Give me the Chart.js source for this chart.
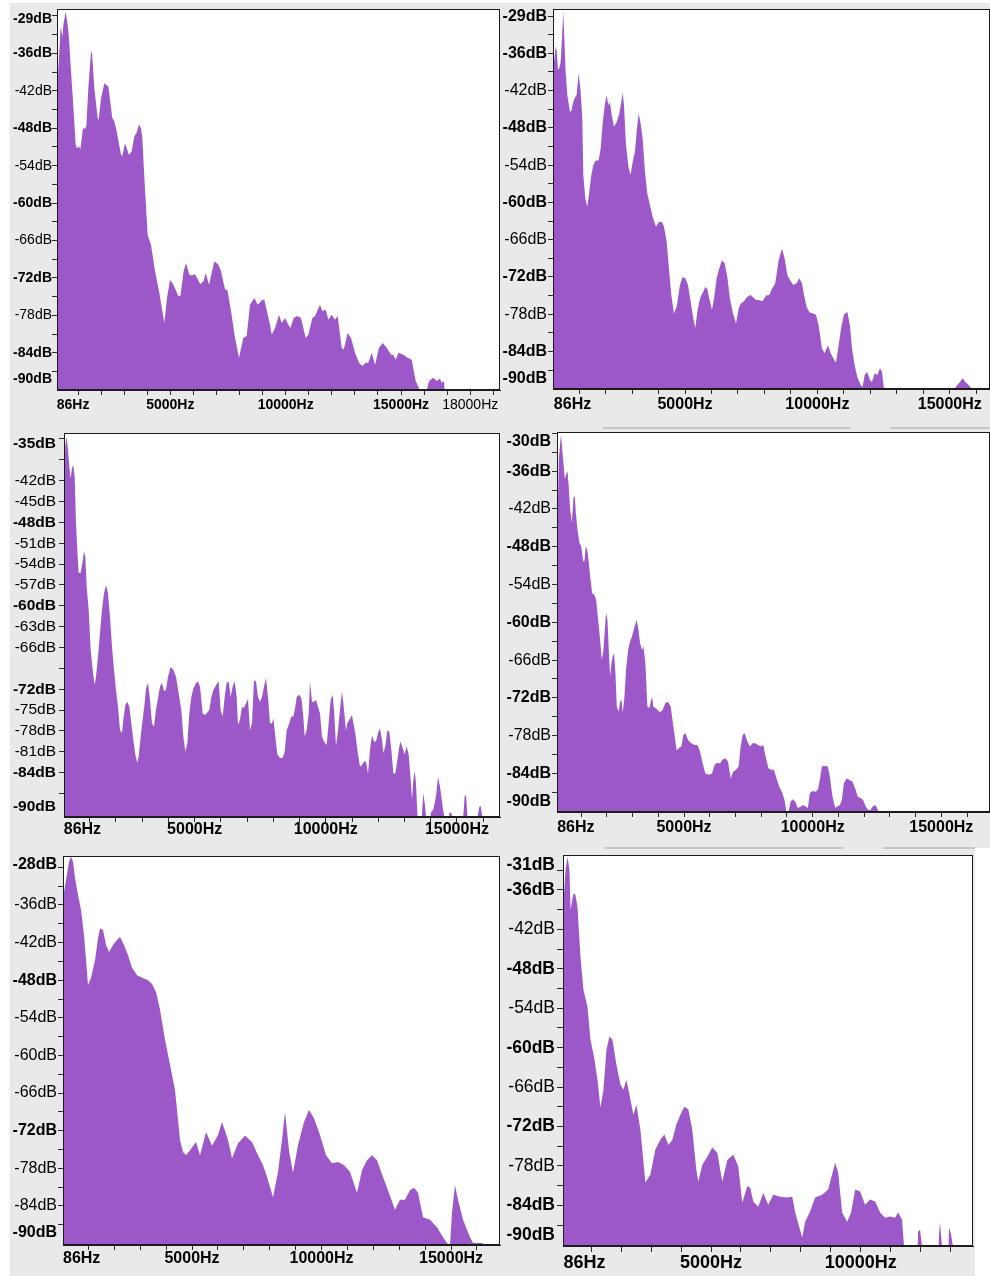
<!DOCTYPE html>
<html>
<head>
<meta charset="utf-8">
<script src="https://cdn.jsdelivr.net/npm/chart.js@4.4.0/dist/chart.umd.min.js"></script>
<style>
body { margin: 0; width: 990px; height: 1276px; background: #fff; position: relative; overflow: hidden; }
canvas { position: absolute; background: #e9e9e9; }
.bar { position: absolute; height: 2px; background: #c6c6c6; }
</style>
</head>
<body>
<canvas id="p1"></canvas>
<canvas id="p2"></canvas>
<canvas id="p3"></canvas>
<canvas id="p4"></canvas>
<canvas id="p5"></canvas>
<canvas id="p6"></canvas>
<div class="bar" style="left:603px;top:427px;width:247px"></div>
<div class="bar" style="left:890px;top:427px;width:100px"></div>
<div class="bar" style="left:605px;top:847px;width:238px"></div>
<div class="bar" style="left:883px;top:847px;width:92px"></div>
<script>
// spectrum 1 (top left)
var p1Hz = [86,145,246,318,361,462,549,607,694,780,896,954,1040,1098,1214,1301,1358,1445,1561,1604,1705,1850,1893,1994,2139,2240,2312,2485,2572,2673,2861,2919,3035,3208,3324,3439,3526,3641,3728,3786,3873,4017,4162,4335,4508,4740,4855,4985,5130,5347,5433,5578,5679,5823,5925,6069,6300,6445,6531,6676,6907,7081,7196,7370,7471,7630,7803,7976,8164,8309,8453,8641,8786,8988,9075,9320,9393,9537,9710,9826,9971,10115,10202,10346,10491,10664,10866,10982,11155,11271,11488,11589,11733,11849,11994,12138,12254,12427,12514,12687,12832,13005,13178,13323,13467,13583,13728,13872,14045,14204,14378,14566,14667,14768,14884,15100,15288,15462,15635,15866,15967,16083,16141,16213,16401,16545,16690,16762,16863,16892,16935,19290];
var p1Db = [-42.7,-38.4,-31.7,-33.3,-31.5,-29.3,-31.5,-33.6,-38.9,-43.7,-50.7,-51.2,-50.9,-51.4,-48.0,-48.1,-47.7,-41.6,-35.7,-36.0,-41.6,-46.4,-46.7,-43.2,-40.8,-41.1,-41.3,-46.4,-46.9,-48.5,-52.3,-52.4,-50.4,-52.3,-51.7,-49.3,-48.8,-47.4,-48.0,-49.6,-56.0,-65.1,-66.7,-70.9,-74.1,-79.2,-75.2,-72.3,-73.1,-74.9,-74.9,-70.9,-69.6,-71.5,-71.6,-71.4,-73.0,-72.5,-71.2,-73.1,-69.3,-69.9,-70.9,-73.9,-73.9,-77.3,-81.6,-84.8,-81.6,-81.3,-76.3,-75.2,-76.3,-75.5,-75.5,-79.5,-81.1,-80.0,-77.9,-79.2,-78.4,-79.5,-80.0,-78.4,-78.1,-78.4,-81.6,-81.1,-78.4,-78.1,-76.3,-77.3,-77.1,-78.7,-77.9,-78.7,-78.1,-83.2,-83.5,-80.8,-81.6,-84.0,-85.6,-86.1,-85.6,-85.6,-84.0,-85.9,-83.2,-82.4,-83.2,-84.3,-84.3,-85.1,-84.0,-84.3,-84.8,-85.1,-88.5,-90.4,-100,-100,-89.6,-88.5,-88.0,-88.5,-88.1,-88.8,-88.5,-90.4,-100,-100];
var p1XAt = [782, 5000, 10000, 15000, 18000];
var p1XText = ['86Hz', '5000Hz', '10000Hz', '15000Hz', '18000Hz'];
var p1XBold = [1, 1, 1, 1, 0];
var p1YAt = [-30.56, -36, -42, -48, -54, -60, -66, -72, -78, -84, -88.27];
var p1YText = ['-29dB', '-36dB', '-42dB', '-48dB', '-54dB', '-60dB', '-66dB', '-72dB', '-78dB', '-84dB', '-90dB'];
var p1YBold = [1, 1, 0, 1, 0, 1, 0, 1, 0, 1, 1];

// spectrum 2 (top right)
var p2Hz = [14,114,152,202,253,303,353,404,441,492,555,655,706,781,857,907,983,1058,1121,1159,1235,1310,1386,1461,1537,1612,1738,1814,1889,1977,2040,2103,2166,2229,2317,2418,2519,2594,2645,2695,2771,2871,2947,3022,3110,3173,3249,3324,3400,3488,3576,3677,3778,3904,4004,4130,4206,4307,4382,4483,4583,4684,4810,4911,5012,5112,5213,5314,5389,5465,5540,5591,5691,5767,5842,5918,6019,6094,6195,6296,6396,6497,6598,6699,6799,6925,7026,7101,7227,7353,7479,7580,7681,7781,7932,8058,8184,8285,8411,8537,8663,8763,8864,8965,9091,9217,9317,9418,9494,9594,9695,9846,9947,10048,10173,10274,10400,10501,10602,10702,10803,10904,11004,11130,11231,11307,11407,11508,11634,11709,11785,11886,11986,12062,12163,12263,12364,12440,12515,12553,15159,15184,15285,15386,15486,15587,15713,15789,15826,16520];
var p2Db = [-39.0,-34.9,-35.5,-38.7,-38.4,-37.4,-33.6,-29.2,-33.6,-39.0,-42.7,-45.4,-45.3,-43.8,-43.0,-42.7,-39.2,-42.2,-46.5,-55.6,-59.4,-60.7,-58.3,-55.6,-54.0,-53.3,-53.2,-51.3,-47.3,-44.1,-42.8,-44.3,-43.9,-45.9,-47.8,-47.1,-45.7,-43.8,-42.3,-44.3,-50.8,-54.5,-55.6,-53.5,-51.8,-48.6,-45.7,-47.3,-49.7,-55.1,-58.6,-60.4,-62.3,-63.9,-63.2,-63.1,-63.9,-66.3,-70.1,-74.9,-77.9,-76.8,-73.3,-72.0,-72.2,-73.3,-76.0,-78.7,-80.2,-77.6,-76.0,-75.2,-74.4,-73.6,-73.9,-75.5,-77.3,-75.5,-72.2,-70.6,-69.3,-69.8,-72.0,-75.5,-77.6,-79.5,-77.1,-76.3,-75.9,-75.2,-74.9,-75.3,-75.7,-75.7,-75.9,-75.0,-74.9,-73.9,-73.0,-69.3,-67.4,-69.0,-71.7,-72.5,-73.3,-73.0,-72.2,-73.0,-74.9,-76.8,-77.7,-77.9,-78.1,-79.8,-83.5,-84.3,-83.0,-84.3,-85.1,-85.8,-83.0,-80.0,-78.1,-77.6,-79.8,-83.5,-86.2,-88.1,-89.4,-89.7,-87.8,-87.3,-88.6,-88.9,-87.5,-87.8,-86.7,-87.3,-90.0,-100,-100,-90.0,-89.4,-88.9,-88.3,-88.9,-89.4,-89.8,-100,-100];
var p2XAt = [752, 5000, 10000, 15000];
var p2XText = ['86Hz', '5000Hz', '10000Hz', '15000Hz'];
var p2XBold = [1, 1, 1, 1];
var p2YAt = [-30.15, -36, -42, -48, -54, -60, -66, -72, -78, -84, -88.43];
var p2YText = ['-29dB', '-36dB', '-42dB', '-48dB', '-54dB', '-60dB', '-66dB', '-72dB', '-78dB', '-84dB', '-90dB'];
var p2YBold = [1, 1, 0, 1, 0, 1, 0, 1, 0, 1, 1];

// spectrum 3 (middle left)
var p3Hz = [20,68,119,170,221,272,323,373,424,475,526,577,653,729,780,831,882,958,1034,1111,1187,1238,1314,1390,1466,1543,1619,1695,1772,1848,1924,2000,2077,2153,2229,2280,2356,2432,2509,2585,2661,2737,2814,2865,2941,3017,3093,3144,3220,3297,3373,3449,3525,3602,3678,3754,3831,3907,3983,4085,4186,4288,4390,4491,4568,4644,4720,4796,4873,4949,5051,5127,5203,5305,5381,5457,5559,5635,5712,5788,5864,5915,5991,6067,6144,6220,6296,6373,6449,6525,6601,6652,6728,6805,6881,6957,7033,7110,7186,7262,7338,7415,7491,7567,7644,7720,7796,7872,7949,8000,8076,8152,8254,8355,8432,8508,8610,8686,8762,8838,8889,8991,9067,9143,9194,9270,9347,9397,9474,9550,9626,9703,9779,9855,9931,10033,10109,10186,10262,10313,10389,10465,10541,10618,10669,10770,10821,10897,10999,11050,11126,11202,11304,11380,11457,11533,11609,11685,11762,11838,11914,11990,12067,12143,12194,12270,12346,12422,12499,12575,12651,12728,12804,12855,12931,13007,13083,13160,13236,13287,13338,13389,13439,13490,13541,13618,13668,13719,13770,13821,13872,13948,13999,14100,14202,14278,14354,14456,14507,14558,14660,14710,14761,14812,14863,15193,15244,15295,15346,15397,15448,15753,15803,15854,15905,15956,16007,16642];
var p3Db = [-41.9,-36.9,-35.7,-37.6,-40.0,-41.7,-40.2,-39.8,-41.4,-48.1,-52.0,-55.3,-55.3,-53.6,-52.2,-52.9,-57.2,-60.6,-66.3,-69.2,-71.4,-70.2,-67.3,-63.9,-60.6,-58.2,-57.0,-58.2,-61.6,-65.9,-69.2,-72.1,-74.5,-77.9,-78.3,-76.4,-74.3,-73.8,-74.5,-76.9,-79.3,-81.4,-82.6,-81.7,-78.8,-76.4,-74.0,-71.9,-71.1,-73.5,-76.9,-77.4,-75.0,-73.3,-71.6,-71.1,-72.3,-72.1,-70.2,-68.8,-69.2,-70.2,-72.6,-75.0,-78.8,-81.0,-79.8,-75.5,-73.1,-71.9,-71.1,-70.9,-71.6,-75.5,-75.7,-75.5,-75.0,-73.1,-72.1,-71.6,-71.1,-70.9,-75.0,-75.9,-73.1,-71.1,-70.9,-73.1,-71.6,-70.9,-73.1,-77.1,-76.4,-74.5,-74.7,-74.0,-73.4,-77.9,-76.9,-70.7,-70.9,-73.1,-73.8,-73.1,-71.6,-70.4,-73.1,-76.9,-76.9,-76.2,-78.8,-81.4,-81.9,-81.9,-81.0,-77.9,-76.9,-75.9,-75.9,-74.5,-73.1,-72.8,-73.3,-75.9,-78.8,-77.9,-75.5,-70.9,-73.8,-73.8,-73.5,-74.5,-75.5,-78.8,-79.5,-80.0,-76.9,-73.5,-72.8,-75.0,-80.2,-77.9,-75.0,-72.3,-74.0,-77.9,-76.9,-76.4,-75.7,-76.9,-78.3,-80.7,-83.1,-82.9,-82.4,-82.4,-84.1,-80.7,-78.6,-79.5,-79.5,-78.3,-77.6,-79.3,-81.2,-80.2,-77.9,-78.1,-80.7,-84.1,-84.1,-82.2,-80.2,-79.5,-80.5,-81.4,-80.2,-81.4,-85.0,-87.9,-85.0,-83.8,-85.5,-89.8,-100,-100,-89.8,-86.9,-88.4,-90.1,-100,-100,-89.8,-89.3,-87.4,-84.6,-86.0,-88.9,-90.1,-100,-100,-89.8,-89.7,-90.1,-100,-100,-90.1,-87.4,-87.2,-90.1,-100,-100,-90.1,-88.9,-88.8,-90.1,-100,-100];
var p3XAt = [720, 5000, 10000, 15000];
var p3XText = ['86Hz', '5000Hz', '10000Hz', '15000Hz'];
var p3XBold = [1, 1, 1, 1];
var p3YAt = [-36.73, -42, -45, -48, -51, -54, -57, -60, -63, -66, -72, -75, -78, -81, -84, -88.9];
var p3YText = ['-35dB', '-42dB', '-45dB', '-48dB', '-51dB', '-54dB', '-57dB', '-60dB', '-63dB', '-66dB', '-72dB', '-75dB', '-78dB', '-81dB', '-84dB', '-90dB'];
var p3YBold = [1, 0, 0, 1, 0, 0, 0, 1, 0, 0, 1, 0, 0, 0, 1, 1];

// spectrum 4 (middle right)
var p4Hz = [64,96,135,187,226,264,316,368,420,471,510,575,640,704,756,795,860,937,1002,1080,1131,1183,1248,1300,1351,1429,1507,1584,1662,1740,1804,1869,1921,1973,2024,2076,2128,2180,2231,2283,2335,2387,2464,2516,2568,2620,2684,2749,2827,2904,2982,3085,3163,3228,3292,3370,3422,3499,3577,3655,3706,3758,3810,3888,3965,4069,4172,4276,4379,4483,4586,4664,4716,4793,4897,4975,5052,5156,5285,5415,5518,5622,5725,5829,5958,6087,6191,6294,6398,6502,6605,6709,6812,6916,7019,7123,7200,7278,7356,7459,7563,7666,7770,7873,7977,8080,8184,8287,8391,8494,8598,8701,8805,8908,8986,9051,9141,9219,9322,9426,9529,9633,9737,9814,9892,9995,10099,10202,10280,10358,10461,10591,10668,10772,10875,10953,11056,11134,11212,11315,11419,11548,11652,11755,11859,11962,12066,12169,12247,12325,12402,12480,12557,12609,16892];
var p4Db = [-52.2,-42.1,-34.2,-31.5,-30.2,-32.6,-34.7,-37.3,-36.5,-36.0,-37.9,-42.1,-44.2,-40.2,-40.0,-42.6,-45.3,-47.4,-47.9,-50.3,-50.3,-47.9,-48.7,-50.6,-52.7,-55.4,-55.6,-56.4,-59.6,-62.8,-66.0,-64.4,-61.2,-58.5,-59.6,-64.4,-68.6,-66.5,-65.4,-64.9,-68.1,-73.4,-74.2,-72.6,-72.3,-74.4,-71.8,-67.5,-64.4,-63.0,-62.2,-60.6,-59.6,-61.2,-63.3,-64.4,-63.8,-66.5,-73.4,-73.6,-72.6,-71.8,-73.4,-73.6,-73.9,-74.3,-73.9,-72.8,-72.6,-73.4,-76.5,-78.9,-80.3,-80.0,-79.7,-77.9,-77.6,-78.7,-79.2,-79.5,-79.5,-80.5,-82.4,-84.0,-84.2,-84.0,-82.6,-82.3,-82.4,-81.8,-81.6,-82.1,-84.8,-83.7,-83.4,-82.9,-79.7,-77.9,-77.6,-78.9,-79.7,-79.2,-79.2,-79.5,-79.7,-79.5,-81.6,-83.2,-83.4,-83.4,-84.8,-86.1,-86.9,-88.2,-90.3,-90.3,-88.5,-88.1,-88.5,-89.5,-89.3,-89.0,-89.3,-89.5,-87.1,-86.8,-86.9,-86.6,-85.0,-82.9,-82.8,-82.9,-84.5,-87.7,-89.5,-89.3,-89.0,-88.2,-85.6,-84.8,-85.0,-85.3,-86.4,-87.7,-87.9,-88.2,-89.3,-89.8,-89.8,-89.3,-89.0,-89.3,-90.1,-100,-100];
var p4XAt = [797, 5000, 10000, 15000];
var p4XText = ['86Hz', '5000Hz', '10000Hz', '15000Hz'];
var p4XBold = [1, 1, 1, 1];
var p4YAt = [-31.34, -36, -42, -48, -54, -60, -66, -72, -78, -84, -88.53];
var p4YText = ['-30dB', '-36dB', '-42dB', '-48dB', '-54dB', '-60dB', '-66dB', '-72dB', '-78dB', '-84dB', '-90dB'];
var p4YBold = [1, 1, 0, 1, 0, 1, 0, 1, 0, 1, 1];

// spectrum 5 (bottom left)
var p5Hz = [20,137,252,330,407,484,600,716,831,986,1102,1256,1372,1449,1565,1681,1796,1951,2105,2221,2375,2530,2684,2877,3070,3302,3456,3611,3765,3958,4151,4344,4537,4653,4769,4923,5155,5309,5541,5772,6004,6158,6390,6544,6776,7046,7316,7509,7741,7934,8127,8320,8474,8590,8744,8899,9092,9323,9516,9709,9941,10173,10404,10636,10867,11099,11369,11562,11755,11948,12141,12373,12566,12836,13029,13222,13415,13569,13724,13917,14187,14457,14689,14843,14959,15036,15152,15268,15461,15731,15847,16194,16310,16387,16889];
var p5Db = [-34.9,-32.0,-29.1,-28.3,-29.1,-31.7,-34.4,-36.8,-40.8,-48.8,-47.6,-44.8,-41.3,-39.7,-40.0,-42.4,-43.5,-42.4,-41.6,-41.1,-42.4,-44.0,-46.0,-47.2,-47.6,-48.0,-48.6,-49.9,-52.7,-57.5,-61.5,-65.5,-73.5,-75.4,-75.9,-75.1,-73.8,-75.9,-72.2,-74.4,-72.7,-70.6,-73.5,-76.4,-74.0,-72.8,-73.8,-75.6,-77.5,-79.9,-82.6,-78.6,-73.5,-69.0,-75.1,-78.7,-74.3,-70.6,-68.7,-70.0,-72.7,-75.9,-77.2,-77.0,-77.5,-78.6,-81.9,-78.3,-76.7,-75.9,-76.7,-79.4,-81.5,-84.6,-83.0,-83.0,-81.5,-81.1,-81.9,-85.8,-86.2,-87.4,-89.0,-89.9,-90.4,-85.1,-80.7,-83.0,-86.2,-89.0,-89.9,-89.9,-90.2,-100,-100];
var p5XAt = [741, 5000, 10000, 15000];
var p5XText = ['86Hz', '5000Hz', '10000Hz', '15000Hz'];
var p5XBold = [1, 1, 1, 1];
var p5YAt = [-29.6, -36, -42, -48, -54, -60, -66, -72, -78, -84, -88.3];
var p5YText = ['-28dB', '-36dB', '-42dB', '-48dB', '-54dB', '-60dB', '-66dB', '-72dB', '-78dB', '-84dB', '-90dB'];
var p5YBold = [1, 0, 0, 1, 0, 0, 0, 1, 0, 0, 1];

// spectrum 6 (bottom right)
var p6Hz = [60,144,211,277,310,410,477,543,643,743,877,977,1110,1210,1310,1410,1510,1610,1710,1843,1976,2076,2176,2310,2410,2510,2643,2810,2977,3143,3310,3443,3577,3710,3843,3977,4110,4243,4376,4510,4576,4710,4877,5043,5210,5376,5543,5743,5910,6043,6210,6310,6410,6577,6743,6910,7077,7310,7543,7710,7810,8043,8143,8310,8476,8710,8910,9143,9243,9376,9543,9676,9810,9976,10143,10309,10476,10643,10810,10976,11143,11243,11376,11443,11509,11843,11909,11976,12043,12109,12543,12609,12643,12709,12776,12876,12943,13009,13076,13143,13743];
var p6Db = [-39.0,-33.0,-31.0,-33.0,-39.0,-36.5,-36.8,-38.6,-46.2,-51.2,-53.8,-58.8,-61.8,-64.9,-69.1,-66.4,-60.3,-58.3,-58.8,-62.6,-65.6,-66.4,-64.9,-67.9,-70.2,-68.7,-72.5,-80.5,-79.3,-75.5,-74.0,-73.2,-74.8,-74.0,-71.7,-70.2,-69.0,-69.4,-72.5,-78.6,-80.4,-77.8,-76.6,-75.2,-76.0,-80.4,-77.1,-76.3,-78.1,-83.6,-81.1,-81.3,-83.4,-84.2,-82.1,-83.9,-82.4,-82.7,-82.8,-82.7,-85.1,-88.9,-86.5,-84.9,-82.8,-82.4,-81.6,-77.5,-79.0,-85.1,-86.5,-85.1,-81.6,-81.9,-83.9,-83.1,-83.4,-85.1,-85.9,-85.7,-85.9,-85.1,-86.2,-90.3,-100,-100,-88.0,-87.7,-90.3,-100,-100,-88.4,-86.6,-90.3,-100,-100,-87.4,-88.4,-90.3,-100,-100];
var p6XAt = [777, 5000, 10000];
var p6XText = ['86Hz', '5000Hz', '10000Hz'];
var p6XBold = [1, 1, 1];
var p6YAt = [-32.2, -36, -42, -48, -54, -60, -66, -72, -78, -84, -88.55];
var p6YText = ['-31dB', '-36dB', '-42dB', '-48dB', '-54dB', '-60dB', '-66dB', '-72dB', '-78dB', '-84dB', '-90dB'];
var p6YBold = [1, 1, 0, 1, 0, 1, 0, 1, 0, 1, 1];

var FONT = "'Liberation Sans', Arial, Helvetica, sans-serif";
var FILL = '#9c58c8';

// canvas box (cx,cy,cw,ch), plot box (L,T,R,B), axis ranges, font sizes, label paddings
var lay1 = {cx: 10, cy: 3, cw: 493, ch: 425, L: 57, T: 9, R: 500, B: 390, xMin: 86, xMax: 19290, yMin: -89.95, yMax: -28.9, xs: 14, ys: 14, xp: 2, yp: 0, tl: 5};
var lay2 = {cx: 503, cy: 3, cw: 487, ch: 425, L: 553, T: 9, R: 990, B: 389, xMin: 14, xMax: 16520, yMin: -90.04, yMax: -28.86, xs: 16, ys: 16, xp: 1, yp: 1, tl: 5};
var lay3 = {cx: 10, cy: 428, cw: 493, ch: 422, L: 64, T: 433, R: 500, B: 817, xMin: 18, xMax: 16642, yMin: -90.37, yMax: -35.15, xs: 16, ys: 15.5, xp: -2, yp: 3, tl: 5};
var lay4 = {cx: 503, cy: 428, cw: 487, ch: 420, L: 557, T: 432, R: 990, B: 812, xMin: 64, xMax: 16892, yMin: -90.12, yMax: -29.78, xs: 16, ys: 16, xp: 1, yp: 1, tl: 5};
var lay5 = {cx: 10, cy: 850, cw: 493, ch: 426, L: 63, T: 856, R: 500, B: 1245, xMin: 20, xMax: 16889, yMin: -90.23, yMax: -28.19, xs: 16, ys: 16, xp: -1, yp: 1, tl: 5};
var lay6 = {cx: 503, cy: 848, cw: 472, ch: 428, L: 563, T: 855, R: 973, B: 1246, xMin: 60, xMax: 13743, yMin: -90.18, yMax: -30.68, xs: 18, ys: 17.5, xp: 0, yp: 2, tl: 6};

var frame = {
    id: 'frame',
    beforeDraw: function (c) {
        var a = c.chartArea, g = c.ctx;
        g.save();
        g.fillStyle = '#fff';
        g.fillRect(a.left, a.top, a.right - a.left, a.bottom - a.top);
        g.restore();
    },
    afterDraw: function (c) {
        var a = c.chartArea, g = c.ctx;
        g.save();
        g.strokeStyle = '#1c1c1c';
        g.lineWidth = 1;
        g.strokeRect(a.left + 0.5, a.top + 0.5, a.right - a.left - 1, a.bottom - a.top - 1);
        g.restore();
    }
};

function axisTicks(marks, at) {
    var all = marks.concat(at.filter(function (v) { return marks.indexOf(v) < 0; }));
    return all.sort(function (a, b) { return a - b; });
}

function panel(id, lay, hz, db, xAt, xText, xBold, yAt, yText, yBold) {
    var cv = document.getElementById(id);
    cv.width = lay.cw;
    cv.height = lay.ch;
    cv.style.left = lay.cx + 'px';
    cv.style.top = lay.cy + 'px';

    var pts = hz.map(function (h, i) { return {x: h, y: db[i]}; });

    var xMarks = [];
    for (var v = 1000; v < lay.xMax; v += 1000) xMarks.push(v);
    var yMarks = [];
    for (var w = -87; w < lay.yMax; w += 3) yMarks.push(w);
    var xTicks = axisTicks(xMarks, xAt);
    var yTicks = axisTicks(yMarks, yAt);

    new Chart(cv, {
        type: 'line',
        data: {
            datasets: [{
                data: pts,
                fill: 'start',
                backgroundColor: FILL,
                borderWidth: 0,
                pointRadius: 0,
                tension: 0
            }]
        },
        options: {
            responsive: false,
            animation: false,
            events: [],
            layout: {padding: {left: 0, top: lay.T - lay.cy, right: lay.cx + lay.cw - lay.R, bottom: 0}},
            plugins: {legend: {display: false}, tooltip: {enabled: false}},
            scales: {
                x: {
                    type: 'linear',
                    min: lay.xMin,
                    max: lay.xMax,
                    afterBuildTicks: function (s) { s.ticks = xTicks.map(function (t) { return {value: t}; }); },
                    afterFit: function (s) {
                        s.height = lay.cy + lay.ch - lay.B;
                        s.paddingLeft = 0; s.paddingRight = 0;
                    },
                    border: {display: true, color: '#1c1c1c', width: 1},
                    grid: {
                        drawOnChartArea: false,
                        tickLength: lay.tl,
                        color: function (ctx) {
                            return ctx.tick && xMarks.indexOf(ctx.tick.value) >= 0 ? '#2a2a2a' : 'rgba(0,0,0,0)';
                        }
                    },
                    ticks: {
                        autoSkip: false,
                        minRotation: 0,
                        maxRotation: 0,
                        padding: lay.xp,
                        color: '#000',
                        font: function (ctx) {
                            var k = ctx.tick ? xAt.indexOf(ctx.tick.value) : -1;
                            return {family: FONT, size: lay.xs, weight: k >= 0 && xBold[k] ? 'bold' : 'normal'};
                        },
                        callback: function (val) {
                            var k = xAt.indexOf(val);
                            return k >= 0 ? xText[k] : '';
                        }
                    }
                },
                y: {
                    type: 'linear',
                    min: lay.yMin,
                    max: lay.yMax,
                    afterBuildTicks: function (s) { s.ticks = yTicks.map(function (t) { return {value: t}; }); },
                    afterFit: function (s) {
                        s.width = lay.L - lay.cx;
                        s.paddingTop = 0; s.paddingBottom = 0;
                    },
                    border: {display: true, color: '#1c1c1c', width: 1},
                    grid: {
                        drawOnChartArea: false,
                        tickLength: lay.tl,
                        color: function (ctx) {
                            return ctx.tick && yMarks.indexOf(ctx.tick.value) >= 0 ? '#2a2a2a' : 'rgba(0,0,0,0)';
                        }
                    },
                    ticks: {
                        autoSkip: false,
                        padding: lay.yp,
                        color: '#000',
                        font: function (ctx) {
                            var k = ctx.tick ? yAt.indexOf(ctx.tick.value) : -1;
                            return {family: FONT, size: lay.ys, weight: k >= 0 && yBold[k] ? 'bold' : 'normal'};
                        },
                        callback: function (val) {
                            var k = yAt.indexOf(val);
                            return k >= 0 ? yText[k] : '';
                        }
                    }
                }
            }
        },
        plugins: [frame]
    });
}

panel('p1', lay1, p1Hz, p1Db, p1XAt, p1XText, p1XBold, p1YAt, p1YText, p1YBold);
panel('p2', lay2, p2Hz, p2Db, p2XAt, p2XText, p2XBold, p2YAt, p2YText, p2YBold);
panel('p3', lay3, p3Hz, p3Db, p3XAt, p3XText, p3XBold, p3YAt, p3YText, p3YBold);
panel('p4', lay4, p4Hz, p4Db, p4XAt, p4XText, p4XBold, p4YAt, p4YText, p4YBold);
panel('p5', lay5, p5Hz, p5Db, p5XAt, p5XText, p5XBold, p5YAt, p5YText, p5YBold);
panel('p6', lay6, p6Hz, p6Db, p6XAt, p6XText, p6XBold, p6YAt, p6YText, p6YBold);
</script>
</body>
</html>
